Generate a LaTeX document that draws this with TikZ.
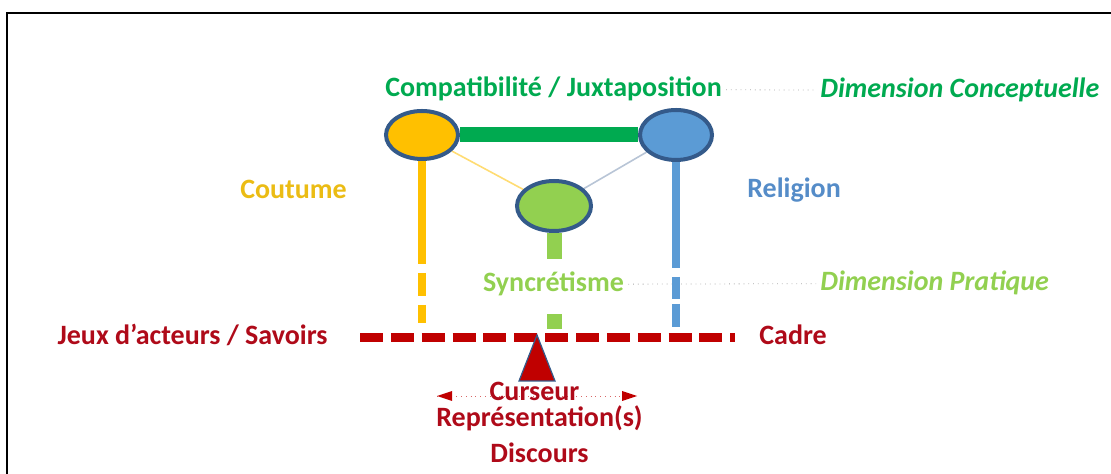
\documentclass[tikz,border=0pt]{standalone}
\usepackage{fontspec}
\setmainfont{Carlito}
\usetikzlibrary{backgrounds,positioning,shapes.geometric,arrows.meta}
\definecolor{compgreen}{RGB}{0,170,80}
\definecolor{syncgreen}{RGB}{146,208,80}
\definecolor{coutorange}{RGB}{255,192,0}
\definecolor{couttext}{RGB}{235,188,20}
\definecolor{religblue}{RGB}{91,155,213}
\definecolor{religtext}{RGB}{85,140,200}
\definecolor{rimblue}{RGB}{52,90,138}
\definecolor{cadrered}{RGB}{192,0,0}
\definecolor{cadretext}{RGB}{175,10,25}

\begin{document}
\begin{tikzpicture}[x=0.5pt,y=-0.5pt,font=\bfseries\fontsize{14}{16}\selectfont,
every node/.style={inner sep=2pt},
ell/.style={ellipse,draw=rimblue,line width=2pt,minimum width=36pt,minimum height=24pt},
label/.style={anchor=base},
dimlabel/.style={anchor=base west,font=\bfseries\itshape\fontsize{14}{16}\selectfont},
thinlink/.style={line width=0.8pt},
guide/.style={gray!70,line width=0.4pt,dotted},
stem/.style={line width=3.6pt},
axis/.style={cadrered,line width=4.5pt,dash pattern=on 11.5pt off 3.93pt}]
\useasboundingbox (0,0) rectangle (1111,474);
\draw[line width=1.2pt] (7,474) -- (7,13) -- (1111,13);

% the three poles
\node[ell,fill=coutorange] (cout) at (422,135) {};
\node[ell,fill=religblue,minimum height=25pt] (relig) at (676,135) {};
\node[ell,fill=syncgreen,minimum width=37pt,minimum height=25pt] (sync) at (554,206) {};

% texts
\node[label,compgreen] (compat) at (553.5,97) {Compatibilité / Juxtaposition};
\node[dimlabel,compgreen] (concept) at (816,98) {Dimension Conceptuelle};
\node[label,couttext] (coutume) at (293.5,199) {Coutume};
\node[label,religtext] (religion) at (794,198) {Religion};
\node[label,syncgreen] (syncretisme) at (553.5,292) {Syncrétisme};
\node[dimlabel,syncgreen] (pratique) at (816,291) {Dimension Pratique};
\node[anchor=base east,cadretext] (jeux) at (332,345) {Jeux d’acteurs / Savoirs};
\node[anchor=base west,cadretext] (cadre) at (755,345) {Cadre};
\node[label,cadretext] (curseur) at (534.5,401) {Curseur};
\node[label,cadretext] (repres) at (539.5,427) {Représentation(s)};
\node[label,cadretext] (discours) at (539.5,463) {Discours};

\coordinate (cbot) at (422,323);
\coordinate (rbot) at (676,327);
\coordinate (sbot) at (554,329);
\coordinate (al) at (360,337.5);
\coordinate (ar) at (735,337.5);
\coordinate (ml) at (437,396);
\coordinate (mr) at (637,396);

\begin{scope}[on background layer]
\draw[compgreen,line width=7.5pt] (cout) -- (relig);
\draw[thinlink,coutorange!55] (cout) -- (sync);
\draw[thinlink,rimblue!35] (relig) -- (sync);
\draw[guide] (compat) -- (concept);
\draw[guide] (syncretisme) -- (pratique);
\draw[guide,cadrered!60] (ml) -- (mr);
\end{scope}

% the three columns
\draw[stem,coutorange,dash pattern=on 51.5pt off 4.5pt on 11.5pt off 4.5pt on 11pt] (cout) -- (cbot);
\draw[stem,religblue,dash pattern=on 53pt off 4.5pt on 11pt off 2.5pt on 12.5pt] (relig) -- (rbot);
\draw[syncgreen,line width=7.5pt,dash pattern=on 13.2pt off 27.5pt on 8.5pt] (sync) -- (sbot);

% the frame and its cursor
\draw[axis] (al) -- (ar);
\draw[fill=cadrered,draw=rimblue,line width=0.6pt] (537,335) -- (555,381) -- (519,381) -- cycle;
\fill[cadrered] (ml) -- ++(15,-5) -- ++(0,10) -- cycle;
\fill[cadrered] (mr) -- ++(-15,-5) -- ++(0,10) -- cycle;
\end{tikzpicture}
\end{document}
